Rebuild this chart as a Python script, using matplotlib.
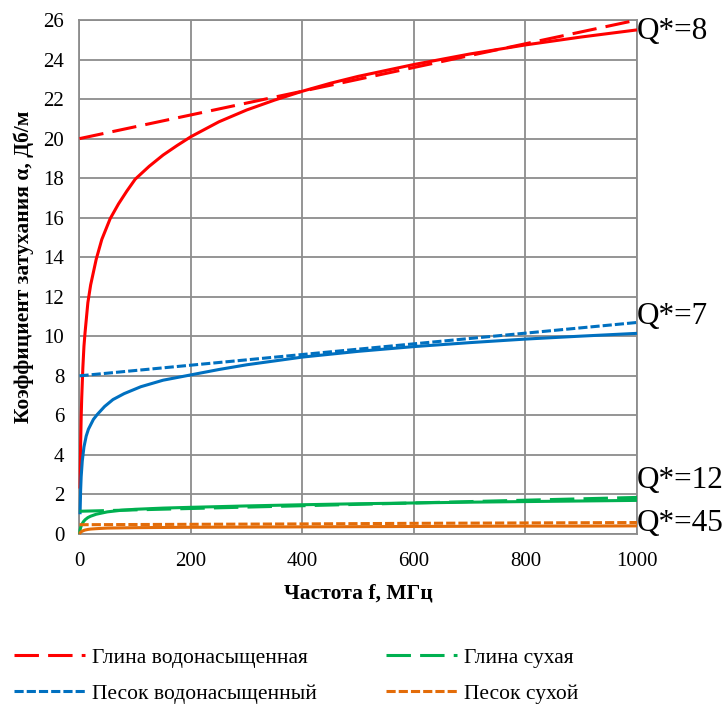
import matplotlib
matplotlib.use("Agg")
import matplotlib.pyplot as plt

plt.rcParams['font.family'] = ['Liberation Serif', 'DejaVu Serif']

# measured attenuation curves, frequency in MHz, attenuation in dB/m
f_clay_wet = [1, 2, 3, 4, 6, 8, 10, 15, 20, 30, 40, 55, 70, 85, 100, 125, 150, 175, 200,
              250, 300, 350, 400, 450, 500, 600, 700, 800, 900, 1000]
a_clay_wet = [2.3, 4.5, 5.9, 6.9, 8.4, 9.5, 10.2, 11.7, 12.6, 13.9, 14.9, 15.95, 16.7, 17.35,
              17.95, 18.6, 19.17, 19.65, 20.1, 20.85, 21.45, 21.95, 22.4, 22.8, 23.15, 23.75,
              24.28, 24.74, 25.14, 25.5]

f_sand_wet = [1, 2, 3, 5, 8, 12, 16, 25, 32, 45, 60, 80, 110, 150, 200, 250, 300, 400, 500,
              600, 700, 800, 900, 1000]
a_sand_wet = [1.0, 2.2, 2.9, 3.7, 4.4, 4.95, 5.3, 5.8, 6.05, 6.45, 6.8, 7.1, 7.45, 7.78, 8.05,
              8.32, 8.56, 8.95, 9.24, 9.48, 9.68, 9.86, 10.01, 10.15]

f_clay_dry = [0, 1, 2, 4, 7, 10, 15, 20, 30, 50, 75, 100, 150, 200, 300, 400, 500, 600, 700,
              800, 900, 1000]
a_clay_dry = [0.0, 0.2, 0.32, 0.48, 0.62, 0.72, 0.83, 0.9, 1.0, 1.12, 1.2, 1.25, 1.31, 1.35,
              1.42, 1.48, 1.53, 1.57, 1.61, 1.64, 1.67, 1.7]

f_sand_dry = [0, 1, 2, 4, 7, 10, 15, 20, 30, 50, 75, 100, 150, 200, 300, 400, 500, 600, 700,
              800, 900, 1000]
a_sand_dry = [0.0, 0.05, 0.09, 0.13, 0.17, 0.2, 0.23, 0.25, 0.27, 0.3, 0.31, 0.32, 0.33, 0.34,
              0.35, 0.36, 0.37, 0.38, 0.39, 0.4, 0.4, 0.41]

# linear approximations
f_lin = [0, 200, 400, 600, 800, 1000]
lin_clay_wet = [20.0, 21.2, 22.4, 23.6, 24.8, 26.0]
lin_sand_wet = [8.0, 8.54, 9.08, 9.62, 10.16, 10.7]
lin_clay_dry = [1.15, 1.29, 1.43, 1.57, 1.71, 1.85]
lin_sand_dry = [0.47, 0.49, 0.51, 0.54, 0.56, 0.58]

names = ['Глина водонасыщенная', 'Песок водонасыщенный', 'Глина сухая', 'Песок сухой']
colors = ['#FF0000', '#0070C0', '#00B050', '#E36C09']
q_labels = ['Q*=8', 'Q*=7', 'Q*=12', 'Q*=45']
q_pos = [25.4, 11.0, 2.73, 0.54]

x_ticks = [0, 200, 400, 600, 800, 1000]
y_ticks = list(range(0, 27, 2))

long_dash = (0, (8, 3))
sys_dash = (0, (3, 1))
styles = [long_dash, sys_dash, long_dash, sys_dash]

fig = plt.figure(figsize=(7.26, 7.07), dpi=100)
ax = fig.add_axes([0.1095, 0.2447, 0.7679, 0.7270])

lw = 2.2
curves = [(f_clay_wet, a_clay_wet), (f_sand_wet, a_sand_wet),
          (f_clay_dry, a_clay_dry), (f_sand_dry, a_sand_dry)]
lines = [lin_clay_wet, lin_sand_wet, lin_clay_dry, lin_sand_dry]

for (fx, ay), c in zip(curves, colors):
    ax.plot(fx, ay, color=c, lw=lw, solid_capstyle='butt', solid_joinstyle='round',
            clip_on=False, zorder=3)

handles = []
for ay, c, ls in zip(lines, colors, styles):
    h, = ax.plot(f_lin, ay, color=c, lw=lw, linestyle=ls, dash_capstyle='butt',
                 clip_on=False, zorder=3)
    handles.append(h)

for txt, y in zip(q_labels, q_pos):
    ax.text(1000, y, txt, fontsize=22.5, va='center', ha='left', clip_on=False)

ax.set_xlim(0, 1000)
ax.set_ylim(0, 26)
ax.set_xticks(x_ticks)
ax.set_yticks(y_ticks)
ax.tick_params(length=0, labelsize=15)
ax.tick_params(axis='x', pad=13)
ax.tick_params(axis='y', pad=11)
ax.grid(True, color='#8c8c8c', lw=1.3)
ax.set_axisbelow(True)
for s in ax.spines.values():
    s.set_color('#8c8c8c')
    s.set_linewidth(1.3)

ax.set_xlabel('Частота f, МГц', fontsize=15.5, fontweight='bold', labelpad=9)
ax.set_ylabel('Коэффициент затухания α, Дб/м', fontsize=15.5, fontweight='bold')
ax.yaxis.set_label_coords(-0.082, 0.52)

fig.legend(handles, names, ncol=2, loc='center', bbox_to_anchor=(0.408, 0.044),
           frameon=False, fontsize=15.5, handlelength=3.3, handletextpad=0.35,
           columnspacing=3.2, labelspacing=0.75)

fig.savefig('out.png', dpi=100)
